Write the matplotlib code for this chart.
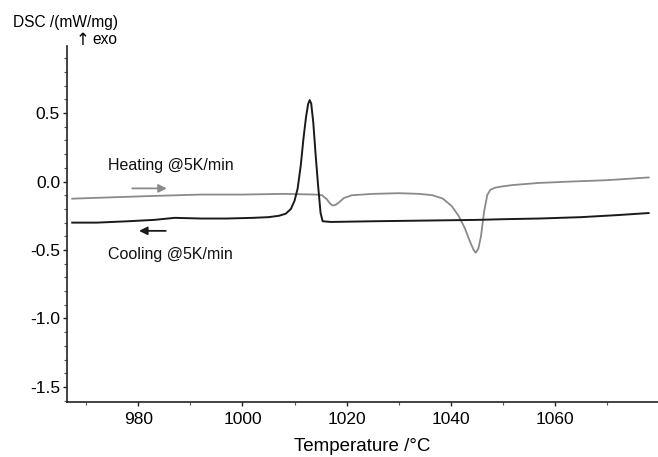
import matplotlib
matplotlib.use("Agg")
import matplotlib.pyplot as plt
from matplotlib.ticker import MultipleLocator

plt.rcParams['font.family'] = ['Liberation Sans', 'DejaVu Sans']

# Heating curve (gray)
heat_T = [967.3, 975, 983, 992, 1000, 1008, 1014, 1015.3, 1016.2, 1016.8, 1017.3, 1017.9, 1018.6,
          1019.5, 1021, 1025, 1030, 1034, 1036.5, 1038.5, 1040.2, 1041.5, 1042.7, 1043.7, 1044.4,
          1044.8, 1045.3, 1045.8, 1046.4, 1047.0, 1047.6, 1048.5, 1050, 1052, 1057, 1063, 1070, 1078]
heat_dsc = [-0.125, -0.115, -0.105, -0.095, -0.095, -0.09, -0.095, -0.10, -0.13, -0.16, -0.175, -0.17, -0.15,
            -0.12, -0.10, -0.09, -0.085, -0.09, -0.10, -0.125, -0.18, -0.25, -0.34, -0.44, -0.50,
            -0.52, -0.49, -0.40, -0.22, -0.10, -0.06, -0.045, -0.035, -0.025, -0.01, 0.00, 0.01, 0.03]

# Cooling curve (black)
cool_T = [967.3, 972, 978, 983, 987, 992, 997, 1002, 1005, 1007, 1008.3, 1009.3, 1010.0, 1010.6,
          1011.2, 1011.7, 1012.2, 1012.6, 1012.9, 1013.2, 1013.6, 1014.0, 1014.5, 1015.0, 1015.4,
          1017, 1025, 1035, 1045, 1050, 1057, 1065, 1072, 1078]
cool_dsc = [-0.30, -0.30, -0.29, -0.28, -0.265, -0.27, -0.27, -0.265, -0.26, -0.25, -0.235, -0.20, -0.14, -0.05,
            0.12, 0.31, 0.47, 0.565, 0.595, 0.57, 0.43, 0.22, -0.02, -0.23, -0.29,
            -0.295, -0.29, -0.285, -0.28, -0.275, -0.27, -0.26, -0.245, -0.23]

x_ticks = [980, 1000, 1020, 1040, 1060]
y_ticks = [0.5, 0.0, -0.5, -1.0, -1.5]
y_tick_labels = ["0.5", "0.0", "-0.5", "-1.0", "-1.5"]

fig = plt.figure(figsize=(6.58, 4.57), dpi=100)
ax = fig.add_axes([67/658, 55/457, 591/658, 356/457])

ax.plot(heat_T, heat_dsc, color='#8a8a8a', lw=1.3, solid_joinstyle='round')
ax.plot(cool_T, cool_dsc, color='#1a1a1a', lw=1.4, solid_joinstyle='round')

ax.set_xlim(966.3, 1079.8)
ax.set_ylim(-1.61, 0.99)

ax.spines['top'].set_visible(False)
ax.spines['right'].set_visible(False)
for s in ('left', 'bottom'):
    ax.spines[s].set_linewidth(1.2)
    ax.spines[s].set_color('#222222')

ax.set_xticks(x_ticks)
ax.set_yticks(y_ticks)
ax.set_yticklabels(y_tick_labels)
ax.xaxis.set_minor_locator(MultipleLocator(10))
ax.yaxis.set_minor_locator(MultipleLocator(0.1))
ax.tick_params(axis='both', which='major', length=3, width=1, labelsize=12.5, color='#222222', pad=4)
ax.tick_params(axis='both', which='minor', length=2, width=0.8, color='#555555')
ax.tick_params(axis='y', which='major', pad=2)

ax.set_xlabel("Temperature /°C", fontsize=13.5, labelpad=8)

ax.text(974.1, 0.118, "Heating @5K/min", fontsize=11.5, va='center', ha='left', color='#111111')
ax.text(974.1, -0.535, "Cooling @5K/min", fontsize=11.5, va='center', ha='left', color='#111111')
ax.annotate("", xy=(986.0, -0.05), xytext=(978.3, -0.05),
            arrowprops=dict(arrowstyle='-|>', color='#8a8a8a', lw=1.3, mutation_scale=12))
ax.annotate("", xy=(979.6, -0.36), xytext=(985.8, -0.36),
            arrowprops=dict(arrowstyle='-|>', color='#1a1a1a', lw=1.3, mutation_scale=12))

fig.text(13/658, 1 - 22/457, "DSC /(mW/mg)", fontsize=11.2, ha='left', va='center')
fig.text(76/658, 1 - 40/457, "↑", fontsize=12, ha='left', va='center', family=['DejaVu Sans'])
fig.text(92/658, 1 - 40/457, "exo", fontsize=11.2, ha='left', va='center')

fig.savefig("out.png", dpi=100)
